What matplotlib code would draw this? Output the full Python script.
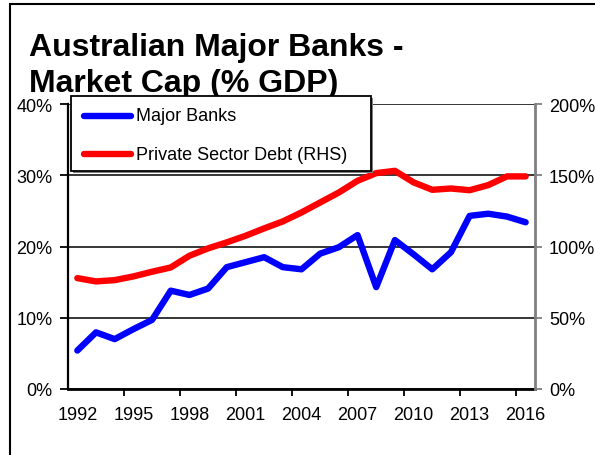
import matplotlib
matplotlib.use("Agg")
import matplotlib.pyplot as plt
from matplotlib.lines import Line2D
from matplotlib.patches import Rectangle
import numpy as np

plt.rcParams["font.family"] = ["Liberation Sans", "DejaVu Sans"]

years = list(range(1992, 2017))
major_banks = [5.4, 7.95, 7.0, 8.4, 9.7, 13.8, 13.2, 14.1, 17.1, 17.8, 18.5, 17.1,
               16.8, 19.0, 19.9, 21.6, 14.3, 20.9, 18.9, 16.8, 19.2, 24.3, 24.6,
               24.2, 23.4]
private_debt = [77.8, 75.5, 76.4, 79.0, 82.3, 85.3, 93.5, 98.7, 102.9, 107.5, 112.7,
                117.6, 123.9, 130.9, 137.9, 146.1, 151.5, 153.1, 145.0, 139.8, 140.7,
                139.5, 143.1, 149.2, 149.2]
left_ticks = [0, 10, 20, 30, 40]
right_ticks = [0, 50, 100, 150, 200]
label_years = years[::3]
series_names = ["Major Banks", "Private Sector Debt (RHS)"]
series_colors = ["#0000FF", "#FF0000"]
title_lines = ["Australian Major Banks -", "Market Cap (% GDP)"]

W, H = 595, 456
fig = plt.figure(figsize=(W / 100, H / 100), dpi=100)


def fx(px):
    return px / W


def fy(py):
    return 1 - py / H


# outer frame
fig.add_artist(Rectangle((fx(10), -0.05), 1.2, fy(5) + 0.05,
                         transform=fig.transFigure, fill=False,
                         edgecolor="black", linewidth=1.5))

ax = fig.add_axes([fx(68), fy(390), (535 - 68) / W, (390 - 105) / H])
ax2 = ax.twinx()

x = np.arange(len(years))
ax.plot(x, major_banks, color=series_colors[0], lw=4.6, solid_joinstyle="round",
        solid_capstyle="round", zorder=3)
ax2.plot(x, private_debt, color=series_colors[1], lw=4.6, solid_joinstyle="round",
         solid_capstyle="round", zorder=3)

ax.set_xlim(-0.5, len(years) - 0.5)
ax.set_ylim(0, 40)
ax2.set_ylim(0, 200)

ax.set_yticks(left_ticks)
ax.set_yticklabels([f"{v}%" for v in left_ticks])
ax2.set_yticks(right_ticks)
ax2.set_yticklabels([f"{v}%" for v in right_ticks])

# category labels centred on years, tick marks on category boundaries
ax.set_xticks([years.index(y) for y in label_years])
ax.set_xticklabels([str(y) for y in label_years])
ax.tick_params(axis="x", which="major", length=0, pad=12, labelsize=13)
ax.set_xticks(np.arange(2.5, len(years), 3), minor=True)
ax.tick_params(axis="x", which="minor", length=5, width=1.3, direction="out",
               color="black")

ax.tick_params(axis="y", length=6, width=1.3, direction="out", pad=5,
               labelsize=13, color="black")
ax2.tick_params(axis="y", length=5, width=1.3, direction="out", pad=5,
                labelsize=13, color="#808080")

ax.yaxis.grid(True, color="black", lw=1.1)
ax.set_axisbelow(True)

for a in (ax, ax2):
    a.spines["top"].set_visible(False)
ax.spines["right"].set_visible(False)
ax2.spines["left"].set_visible(False)
ax2.spines["bottom"].set_visible(False)
ax.spines["left"].set_linewidth(1.6)
ax.spines["bottom"].set_linewidth(2.0)
ax2.spines["right"].set_color("#808080")
ax2.spines["right"].set_linewidth(2.0)

# title, two lines
for line, base in zip(title_lines, (56, 92)):
    fig.text(fx(29), fy(base), line, fontsize=23, fontweight="bold",
             ha="left", va="baseline")

# legend box
fig.add_artist(Rectangle((fx(73), fy(174)), (371 - 71) / W, (172 - 97) / H,
                         transform=fig.transFigure, facecolor="#808080",
                         edgecolor="none", zorder=5))
fig.add_artist(Rectangle((fx(71), fy(172)), (371 - 71) / W, (172 - 97) / H,
                         transform=fig.transFigure, facecolor="white",
                         edgecolor="black", linewidth=1.3, zorder=6))
for name, color, yc in zip(series_names, series_colors, (117, 155)):
    fig.add_artist(Line2D([fx(84), fx(131)], [fy(yc), fy(yc)],
                          transform=fig.transFigure, color=color, lw=4.6,
                          solid_capstyle="round", zorder=7))
    fig.text(fx(136), fy(yc), name, fontsize=13, ha="left", va="center",
             zorder=7)

fig.savefig("out.png", dpi=100)
